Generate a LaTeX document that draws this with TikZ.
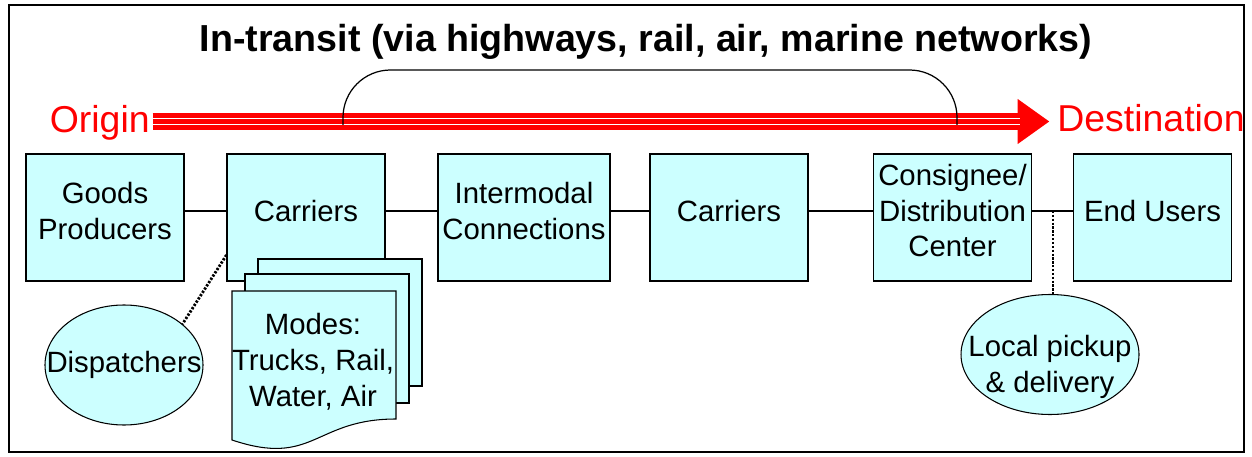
\documentclass[tikz,border=0pt]{standalone}
\usepackage{fontspec}
\setmainfont{Liberation Sans}
\usetikzlibrary{arrows.meta,shapes.geometric}
\definecolor{boxcyan}{RGB}{204,255,255}
\newcommand{\boxfont}{\fontsize{16.7}{20.4}\selectfont}

\begin{document}
\begin{tikzpicture}[
		box/.style={draw, fill=boxcyan, line width=0.6pt, minimum width=3.16cm, minimum height=2.54cm, inner xsep=2pt, align=center, text depth=0.28cm, font=\boxfont},
		oval/.style={ellipse, draw, fill=boxcyan, line width=0.6pt, inner xsep=-0.6cm, align=center, font=\boxfont},
		link/.style={line width=0.7pt},
		tether/.style={line width=1.6pt, dash pattern=on 1.3pt off 0.9pt},
		redtext/.style={text=red, inner sep=0.05cm, font=\fontsize{21.3}{24}\selectfont},
		doc/.style={draw, fill=boxcyan, line width=0.6pt}
	]

		\useasboundingbox (0,0) rectangle (25.04,9.12);
		\draw[line width=1.1pt] (0.18,0.08) rectangle (24.88,9.02);

		% Title
		\node[anchor=base, font=\bfseries\fontsize{21.4}{24}\selectfont] (title) at (12.92,8.08) {In-transit (via highways, rail, air, marine networks)};

		% Origin -> Destination band
		\coordinate (band) at (0,6.69);
		\coordinate (gapA) at (0,6.75);
		\coordinate (gapB) at (0,6.63);
		\coordinate (headbase) at (20.40,6.69);
		\node[redtext, anchor=base east] (origin) at (3.05,6.46) {Origin};
		\node[redtext, anchor=base west] (dest) at (21.09,6.48) {Destination};
		\draw[red, line width=0.34cm, shorten >=0.1cm, -{Triangle[length=0.64cm,width=0.86cm]}] (origin.east |- band) -- (dest.west |- band);
		\draw[white, line width=0.85pt] (origin.east |- gapA) -- (headbase |- gapA);
		\draw[white, line width=0.85pt] (origin.east |- gapB) -- (headbase |- gapB);

		% Arch over the band
		\coordinate (archL) at (6.86,6.62);
		\coordinate (archR) at (19.14,6.62);
		\draw[link, rounded corners=0.95cm] (archL) -- (6.86,7.72) -- (19.14,7.72) -- (archR);

		% Chain of boxes
		\node[box] (prod) at (2.10,4.77) {Goods\\Producers};
		\node[box] (car1) at (6.12,4.77) {Carriers};
		\node[box, minimum width=3.44cm] (inter) at (10.48,4.77) {Intermodal\\Connections};
		\node[box] (car2) at (14.58,4.77) {Carriers};
		\node[box] (cons) at (19.05,4.77) {Consignee/\\Distribution\\Center};
		\node[box] (endu) at (23.05,4.77) {End Users};

		\draw[link] ([yshift=0.13cm]prod.east) -- ([yshift=0.13cm]car1.west);
		\draw[link] ([yshift=0.13cm]car1.east) -- ([yshift=0.13cm]inter.west);
		\draw[link] ([yshift=0.13cm]inter.east) -- ([yshift=0.13cm]car2.west);
		\draw[link] ([yshift=0.13cm]car2.east) -- ([yshift=0.13cm]cons.west);
		\draw[link] ([yshift=0.13cm]cons.east) -- ([yshift=0.13cm]endu.west);

		% Side ovals
		\node[oval, minimum width=3.16cm, minimum height=2.4cm] (disp) at (2.48,1.82) {Dispatchers};
		\node[oval, minimum width=3.56cm, minimum height=2.4cm, inner ysep=-0.3cm, text height=1.63cm, text depth=0.12cm] (pick) at (21.00,2.03) {Local pickup\\\& delivery};

		\coordinate (tap) at (21.06,4.90);
		\draw[tether] (tap) -- (tap |- pick.north);
		\draw[tether] ([yshift=-0.75cm]car1.west) -- (disp.35);

		% Stack of mode sheets
		\draw[doc] (5.16,1.40) rectangle (8.44,3.94);
		\draw[doc] (4.90,1.06) rectangle (8.18,3.64);
		\draw[doc] (4.64,3.30) -- (7.92,3.30) -- (7.92,0.74) .. controls (6.28,0.74) and (6.28,-0.23) .. (4.64,0.32) -- cycle;
		\node[align=center, font=\boxfont] (modes) at (6.26,1.89) {Modes:\\Trucks, Rail,\\Water, Air};

	\end{tikzpicture}
\end{document}
